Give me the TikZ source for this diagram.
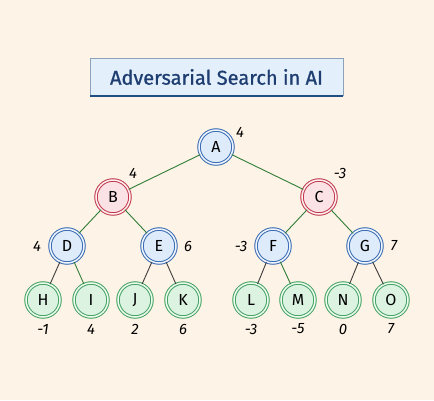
\documentclass[tikz,border=0pt]{standalone}
\usepackage{fontspec}
\setmainfont{Fira Sans}
\begin{document}
\begin{tikzpicture}[x=1pt,y=-1pt,
  nd/.style={circle,minimum size=34pt,inner sep=0pt,line width=1pt,double distance=1.5pt,font=\fontsize{16}{18}\selectfont},
  maxn/.style={nd,draw=nbd,double=nbf!50!white,fill=nbf},
  minn/.style={nd,draw=nrd,double=nrf!50!white,fill=nrf},
  leaf/.style={nd,draw=ngd,double=ngf!50!white,fill=ngf},
  eg/.style={draw=edg,line width=0.9pt},
  ek/.style={draw=edk,line width=0.9pt},
  val/.style={font=\itshape\fontsize{15}{17}\selectfont,inner sep=0pt}]
\definecolor{bg}{HTML}{FDF3E6}
\definecolor{nbd}{HTML}{3B6CB3}
\definecolor{nbf}{HTML}{DDEBFA}
\definecolor{nrd}{HTML}{C23A4C}
\definecolor{nrf}{HTML}{FBE2E5}
\definecolor{ngd}{HTML}{43A463}
\definecolor{ngf}{HTML}{DDF3E2}
\definecolor{edg}{HTML}{2F7D36}
\definecolor{edk}{HTML}{3C3A3A}
\definecolor{tbf}{HTML}{E3F0FC}
\definecolor{tbd}{HTML}{8CA2BC}
\definecolor{tbb}{HTML}{1F4E85}
\definecolor{ttx}{HTML}{1E3D70}
\fill[bg] (0,0) rectangle (434,400);
\useasboundingbox (0,0) rectangle (434,400);
% title
\fill[tbf] (90,58) rectangle (343,96);
\draw[tbd,line width=0.7pt] (90,96) -- (90,58) -- (343,58) -- (343,96);
\draw[tbb,line width=2.2pt] (89.7,96) -- (343.3,96);
\node[text=ttx,font=\fontsize{20}{24}\selectfont\addfontfeatures{FakeBold=0.9}] (title) at (216.5,77) {Adversarial Search in AI};
% nodes
\node[maxn] (A) at (216,147) {A};
\node[minn] (B) at (113,197) {B};
\node[minn] (C) at (319,197) {C};
\node[maxn] (D) at (67,246) {D};
\node[maxn] (E) at (159,246) {E};
\node[maxn] (F) at (273,246) {F};
\node[maxn] (G) at (365,246) {G};
\node[leaf] (H) at (43,300) {H};
\node[leaf] (I) at (91,300) {I};
\node[leaf] (J) at (135,300) {J};
\node[leaf] (K) at (183,300) {K};
\node[leaf] (L) at (251,300) {L};
\node[leaf] (M) at (298,300) {M};
\node[leaf] (N) at (343,300) {N};
\node[leaf] (O) at (391,300) {O};
% edges
\draw[eg] (A) -- (B);
\draw[eg] (A) -- (C);
\draw[eg] (B) -- (D);
\draw[eg] (B) -- (E);
\draw[eg] (C) -- (F);
\draw[eg] (C) -- (G);
\draw[ek] (D) -- (H);
\draw[eg] (D) -- (I);
\draw[ek] (E) -- (J);
\draw[ek] (E) -- (K);
\draw[ek] (F) -- (L);
\draw[eg] (F) -- (M);
\draw[ek] (G) -- (N);
\draw[ek] (G) -- (O);
% values
\node[val] (vA) at (240,132) {4};
\node[val] (vB) at (133,173) {4};
\node[val] (vC) at (340,173) {-3};
\node[val] (vD) at (37,246) {4};
\node[val] (vE) at (188,246) {6};
\node[val] (vF) at (241,246) {-3};
\node[val] (vG) at (394,246) {7};
\node[val] (vH) at (43,329) {-1};
\node[val] (vI) at (91,329) {4};
\node[val] (vJ) at (135,329) {2};
\node[val] (vK) at (183,329) {6};
\node[val] (vL) at (251,329) {-3};
\node[val] (vM) at (298,329) {-5};
\node[val] (vN) at (343,329) {0};
\node[val] (vO) at (391,329) {7};
\end{tikzpicture}
\end{document}
